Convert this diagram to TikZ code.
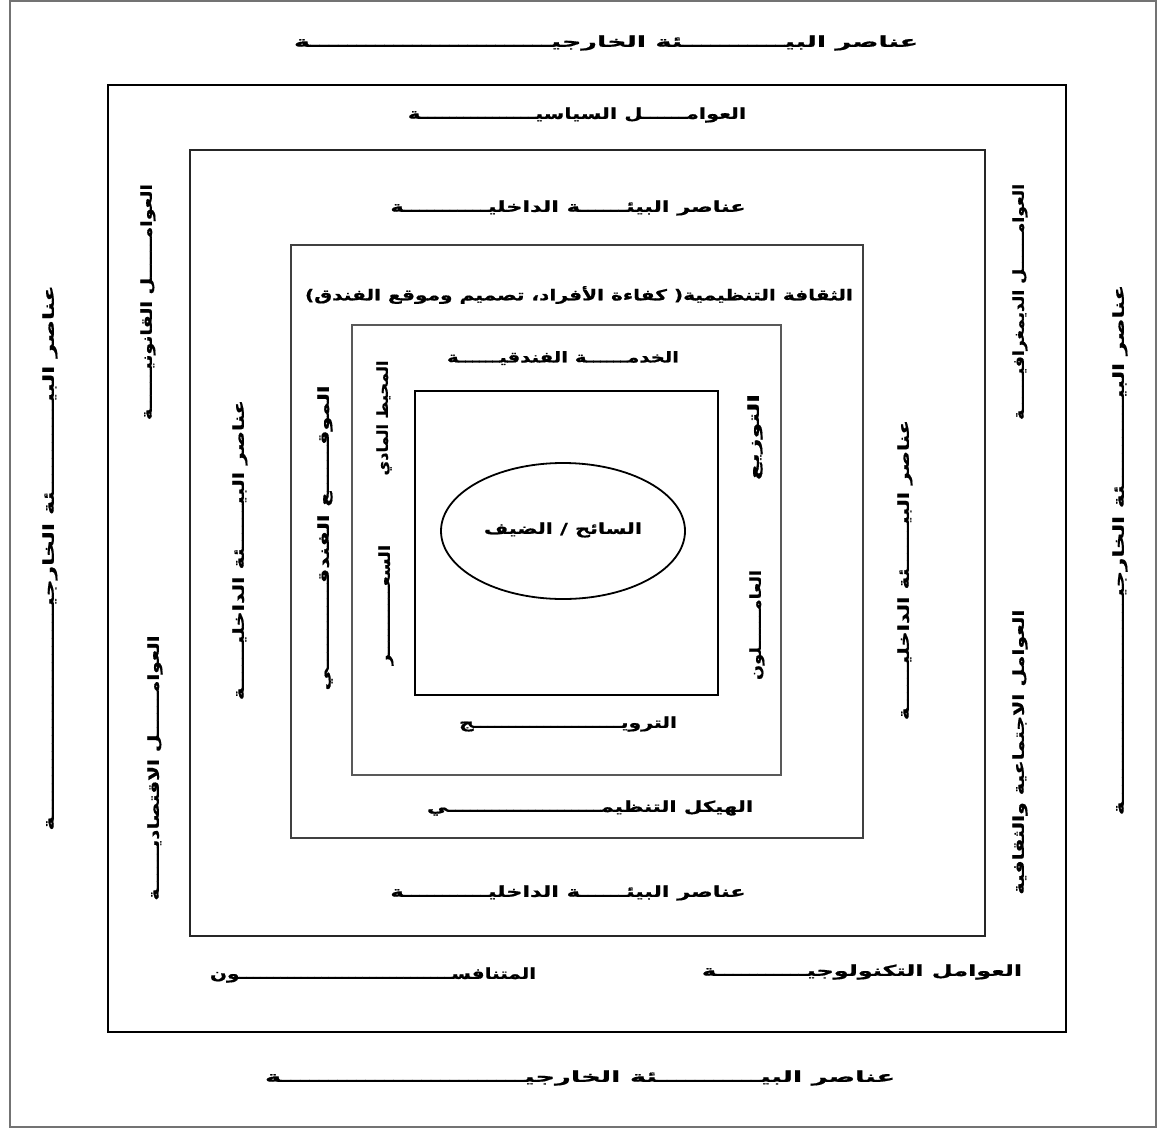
\documentclass[tikz,border=0pt]{standalone}
\usepackage{fontspec}
\usepackage{graphicx}
\newfontfamily\arabicfont[Script=Arabic,BoldFeatures={FakeBold=0.8}]{DejaVu Sans}
\TeXXeTstate=1
\def\T{ـــــ}
\newcommand\ar[2]{\resizebox{#1pt}{\height}{\fontsize{15}{17}\selectfont\arabicfont\bfseries #2}}
\tikzset{
  lbl/.style={inner sep=0pt, anchor=center},
  boxA/.style={draw=black, line width=2.6pt},
  boxB/.style={draw=black!85, line width=2.4pt},
  boxC/.style={draw=black!75, line width=2.8pt},
  boxD/.style={draw=black!65, line width=2.8pt},
  boxE/.style={draw=black, line width=1.8pt},
}
\begin{document}
\begin{tikzpicture}[x=1pt,y=-1pt]
\useasboundingbox (0,0) rectangle (1158,1129);
\draw[black!55, line width=1.6pt] (10,1) rectangle (1156,1127);
% rectangles
\draw[boxA] (108,85) rectangle (1066,1032);
\draw[boxB] (190,150) rectangle (985,936);
\draw[boxC] (291,245) rectangle (863,838);
\draw[boxD] (352,325) rectangle (781,775);
\draw[boxE] (415,391) rectangle (718,695);
\draw[line width=1.8pt] (563,531) ellipse (122 and 68);
% horizontal labels
\node[lbl] (ext1) at (606,43) {\ar{624}{\beginR عناصر البيـ\T\T ئة الخارجيـ\T\T\T\T\T ة\endR}};
\node[lbl] (pol) at (577,115) {\ar{338}{\beginR العوامـ\T ل السياسيـ\T\T\T ة\endR}};
\node[lbl] (int1) at (568,208) {\ar{355}{\beginR عناصر البيئـ\T ة الداخليـ\T\T ة\endR}};
\node[lbl] (cult) at (579,295) {\ar{548}{\beginR الثقافة التنظيمية( كفاءة الأفراد، تصميم وموقع الفندق)\endR}};
\node[lbl] (serv) at (563,358) {\ar{232}{\beginR الخدمـ\T ة الفندقيـ\T ة\endR}};
\node[lbl] (prom) at (568,724) {\ar{218}{\beginR الترويـ\T\T\T\T ج\endR}};
\node[lbl] (org) at (590,808) {\ar{326}{\beginR الهيكل التنظيمـ\T\T\T\T ي\endR}};
\node[lbl] (int2) at (568,893) {\ar{355}{\beginR عناصر البيئـ\T ة الداخليـ\T\T ة\endR}};
\node[lbl] (comp) at (373,975) {\ar{326}{\beginR المتنافسـ\T\T\T\T\T\T ون\endR}};
\node[lbl] (tech) at (862,972) {\ar{320}{\beginR العوامل التكنولوجيـ\T\T ة\endR}};
\node[lbl] (ext2) at (580,1078) {\ar{630}{\beginR عناصر البيـ\T\T ئة الخارجيـ\T\T\T\T\T ة\endR}};
% vertical labels
\node[lbl, rotate=90] (ext3) at (50,558) {\ar{545}{\beginR عناصر البيـ\T\T ئة الخارجيـ\T\T\T\T\T ة\endR}};
\node[lbl, rotate=90] (legal) at (148,302) {\ar{236}{\beginR العوامـ\T ل القانونيـ\T ة\endR}};
\node[lbl, rotate=90] (econ) at (155,768) {\ar{265}{\beginR العوامـ\T ل الاقتصاديـ\T ة\endR}};
\node[lbl, rotate=90] (int3) at (240,550) {\ar{300}{\beginR عناصر البيـ\T ئة الداخليـ\T ة\endR}};
\node[lbl, rotate=90] (loc) at (325,538) {\ar{305}{\beginR الموقـ\T ع الفندقـ\T\T ي\endR}};
\node[lbl, rotate=90] (phys) at (384,418) {\ar{115}{\beginR المحيط المادي\endR}};
\node[lbl, rotate=90] (price) at (386,605) {\ar{120}{\beginR السعـ\T\T ر\endR}};
\node[lbl, rotate=90] (dist) at (755,437) {\ar{86}{\beginR التوزيع\endR}};
\node[lbl, rotate=90] (staff) at (757,625) {\ar{110}{\beginR العامـ\T لون\endR}};
\node[lbl, rotate=90] (int4) at (905,570) {\ar{300}{\beginR عناصر البيـ\T ئة الداخليـ\T ة\endR}};
\node[lbl, rotate=90] (demo) at (1020,302) {\ar{236}{\beginR العوامـ\T ل الديمغرافيـ\T ة\endR}};
\node[lbl, rotate=90] (soc) at (1020,752) {\ar{285}{\beginR العوامل الاجتماعية والثقافية\endR}};
\node[lbl, rotate=90] (ext4) at (1120,550) {\ar{530}{\beginR عناصر البيـ\T\T ئة الخارجيـ\T\T\T\T\T ة\endR}};
% centre
\node[lbl] (tour) at (563,530) {\ar{158}{\beginR السائح / الضيف\endR}};
\end{tikzpicture}
\end{document}
